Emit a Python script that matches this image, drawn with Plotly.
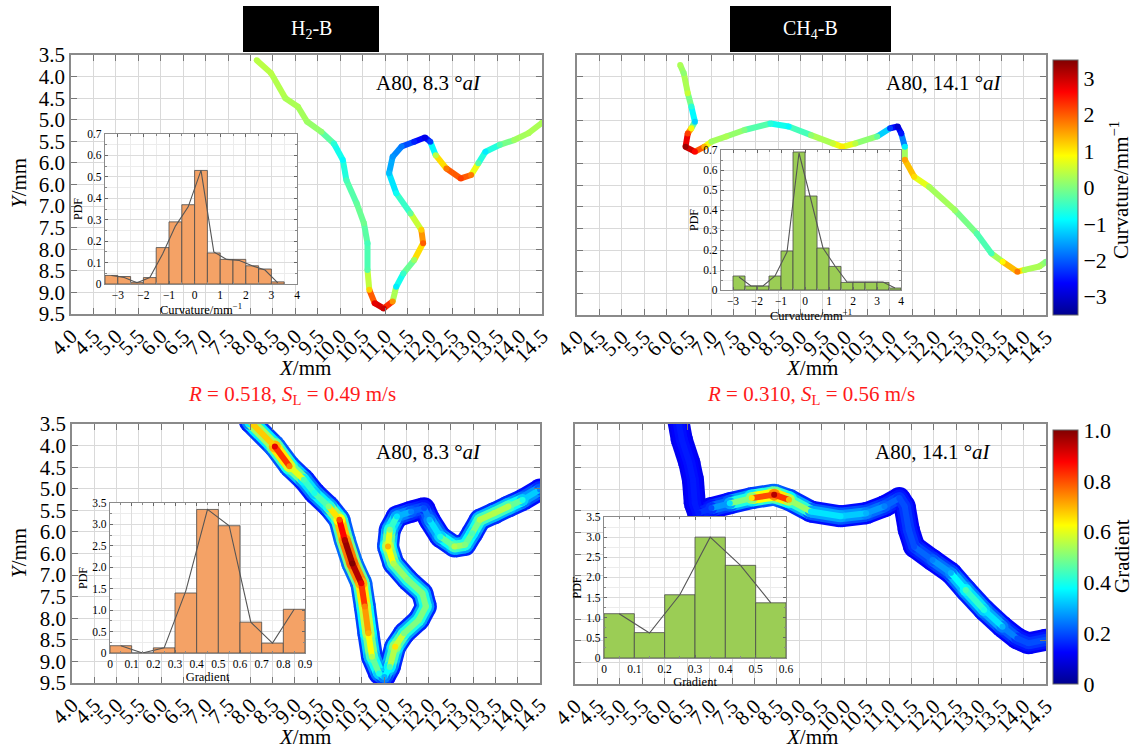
import plotly.graph_objects as go
from plotly.colors import sample_colorscale

W, H = 1136, 755
FONT = "Liberation Serif"

# ---------------- data ----------------
X_TICKS = [4.0 + 0.5 * i for i in range(22)]
X_TICKTEXT = ["4.0", "4.5", "5.0", "5.5", "6.0", "6.5", "7.0", "7.5", "8.0", "8.5", "9.0",
              "9.5", "10.0", "10.5", "11.0", "11.5", "12.0", "12.5", "13.0", "13.5", "14.0", "14.5"]
Y_TICKS = [3.5 + 0.5 * i for i in range(13)]
Y_TICKTEXT = ["3.5", "4.0", "4.5", "5.0", "5.5", "6.0", "6.0", "7.0", "7.5", "8.0", "8.5", "9.0", "9.5"]

# H2-B flame front, curvature (mm^-1)
TL_X = [8.14, 8.46, 8.78, 9.06, 9.26, 9.58, 9.86, 10.06, 10.14, 10.37, 10.53, 10.61, 10.61, 10.65,
        10.77, 10.97, 11.17, 11.25, 11.41, 11.65, 11.85, 11.81, 11.57, 11.25, 11.09, 11.17, 11.37,
        11.65, 11.89, 12.01, 12.13, 12.37, 12.69, 12.92, 13.08, 13.24, 13.56, 13.88, 14.20, 14.50]
TL_Y = [3.62, 3.92, 4.50, 4.70, 5.04, 5.28, 5.55, 5.93, 6.40, 6.94, 7.40, 7.86, 8.48, 8.94,
        9.25, 9.37, 9.21, 8.87, 8.56, 8.25, 7.86, 7.55, 7.17, 6.70, 6.24, 5.86, 5.62,
        5.51, 5.41, 5.51, 5.82, 6.13, 6.36, 6.28, 6.01, 5.74, 5.58, 5.47, 5.31, 5.07]
TL_K = [0.4, 0.4, 0.3, 0.3, 0.2, 0.1, -0.6, -0.9, -0.4, -0.2, -0.1, -0.4, -0.3, 1.2,
        2.8, 3.0, 1.6, -1.0, -0.5, 0.2, 2.0, 1.2, -0.2, -0.8, -1.3, -1.6, -1.8,
        -2.4, -2.8, -2.2, 0.4, 1.8, 2.2, 1.8, -0.3, -1.0, -0.3, 0.2, 0.3, 0.3]

# CH4-B flame front, curvature (mm^-1)
TR_X = [6.31, 6.39, 6.48, 6.56, 6.64, 6.56, 6.48, 6.43, 6.64, 6.85, 7.01, 7.34, 7.75, 8.33, 8.74,
        9.24, 9.73, 9.94, 10.23, 10.72, 11.01, 11.18, 11.26, 11.34, 11.34, 11.55, 11.88, 12.46,
        12.95, 13.28, 13.53, 13.86, 14.02, 14.35, 14.50]
TR_Y = [3.73, 3.92, 4.38, 4.69, 5.04, 5.19, 5.31, 5.62, 5.73, 5.62, 5.50, 5.38, 5.23, 5.08, 5.15,
        5.35, 5.54, 5.62, 5.54, 5.38, 5.19, 5.15, 5.31, 5.62, 5.92, 6.31, 6.54, 7.08,
        7.62, 8.08, 8.27, 8.50, 8.46, 8.38, 8.27]
TR_K = [0.3, 0.1, 0.5, -0.6, -1.2, 0.8, 2.2, 3.3, 2.6, 1.4, 0.2, 0.3, 0.0, -0.6, -0.9,
        0.1, 0.5, 1.0, 0.4, -0.2, -2.2, -3.0, -2.5, -1.0, 1.5, 1.1, 0.3, 0.2,
        -0.3, -0.4, 0.9, 1.8, 0.3, 0.3, 0.0]

# H2-B flame front, normalised gradient
BL_X = [7.99, 8.55, 8.88, 9.20, 9.44, 9.76, 10.00, 10.12, 10.29, 10.49, 10.57, 10.65, 10.73, 10.89,
        11.01, 11.13, 11.25, 11.45, 11.78, 11.94, 11.86, 11.53, 11.21, 11.09, 11.13, 11.29, 11.61,
        11.90, 12.02, 12.26, 12.58, 12.82, 12.98, 13.15, 13.47, 13.79, 14.11, 14.50]
BL_Y = [3.44, 4.02, 4.48, 4.79, 5.10, 5.41, 5.72, 6.19, 6.73, 7.19, 7.73, 8.35, 8.89, 9.28,
        9.36, 9.13, 8.66, 8.35, 8.04, 7.73, 7.42, 7.11, 6.73, 6.34, 5.95, 5.64, 5.53,
        5.45, 5.72, 6.11, 6.34, 6.30, 6.03, 5.72, 5.57, 5.41, 5.26, 5.02]
BL_G = [0.45, 0.9, 0.75, 0.45, 0.4, 0.5, 0.8, 0.95, 1.0, 0.9, 0.75, 0.7, 0.55, 0.4,
        0.3, 0.45, 0.65, 0.5, 0.5, 0.5, 0.5, 0.5, 0.55, 0.7, 0.5, 0.35, 0.25,
        0.2, 0.3, 0.4, 0.55, 0.5, 0.45, 0.55, 0.55, 0.55, 0.4, 0.25]

# CH4-B flame front, normalised gradient
BR_X = [6.30, 6.38, 6.55, 6.63, 6.67, 6.75, 7.04, 7.45, 7.94, 8.44, 8.77, 9.26, 9.92, 10.49,
        10.90, 11.23, 11.35, 11.44, 11.56, 11.97, 12.38, 12.71, 13.12, 13.53, 13.86, 14.11, 14.50]
BR_Y = [3.40, 3.86, 4.40, 4.79, 5.33, 5.56, 5.44, 5.33, 5.21, 5.13, 5.25, 5.52, 5.63, 5.56,
        5.40, 5.21, 5.40, 5.94, 6.33, 6.64, 6.94, 7.33, 7.79, 8.18, 8.45, 8.56, 8.48]
BR_G = [0.15, 0.15, 0.15, 0.15, 0.15, 0.15, 0.2, 0.35, 0.65, 0.95, 0.7, 0.35, 0.35, 0.3,
        0.25, 0.2, 0.2, 0.2, 0.2, 0.25, 0.3, 0.45, 0.4, 0.3, 0.2, 0.2, 0.2]

# inset histograms
H2_K_BINS = [-3.25, -2.75, -2.25, -1.75, -1.25, -0.75, -0.25, 0.25, 0.75, 1.25, 1.75, 2.25, 2.75, 3.25]
H2_K_PDF = [0.04, 0.035, 0.008, 0.03, 0.17, 0.29, 0.37, 0.53, 0.145, 0.115, 0.115, 0.085, 0.07, 0.01]
H2_K_FIT = [0.04, 0.03, 0.006, 0.03, 0.14, 0.27, 0.36, 0.53, 0.15, 0.115, 0.11, 0.085, 0.065, 0.005]

CH4_K_BINS = [-2.75, -2.25, -1.75, -1.25, -0.75, -0.25, 0.25, 0.75, 1.25, 1.75, 2.25, 2.75, 3.25, 3.75]
CH4_K_PDF = [0.07, 0.02, 0.02, 0.07, 0.195, 0.69, 0.47, 0.21, 0.118, 0.038, 0.038, 0.038, 0.038, 0.01]
CH4_K_FIT = [0.065, 0.02, 0.02, 0.07, 0.19, 0.685, 0.45, 0.21, 0.12, 0.04, 0.04, 0.04, 0.04, 0.01]

H2_G_BINS = [0.05, 0.15, 0.25, 0.35, 0.45, 0.55, 0.65, 0.75, 0.85]
H2_G_PDF = [0.17, 0.0, 0.12, 1.4, 3.35, 2.97, 0.72, 0.23, 1.02]
H2_G_FIT = [0.17, 0.0, 0.12, 1.45, 3.35, 2.97, 0.72, 0.23, 1.02]

CH4_G_BINS = [0.05, 0.15, 0.25, 0.35, 0.45, 0.55]
CH4_G_PDF = [1.1, 0.63, 1.57, 3.0, 2.3, 1.37]
CH4_G_FIT = [1.1, 0.62, 1.57, 3.0, 2.3, 1.37]

# ---------------- style ----------------
JET = [[0.0, 'rgb(0,0,143)'], [0.125, 'rgb(0,0,255)'], [0.375, 'rgb(0,255,255)'],
       [0.625, 'rgb(255,255,0)'], [0.875, 'rgb(255,0,0)'], [1.0, 'rgb(128,0,0)']]
ORANGE = 'rgb(244,162,102)'
GREEN = 'rgb(155,205,85)'
K_MIN, K_MAX = -3.5, 3.5

# panel pixel boxes: (x0, x1), (y0, y1)
BOX = {
    1: ((71, 542), (55, 314)),
    2: ((577, 1046), (55, 315)),
    3: ((72, 540), (424, 683)),
    4: ((575, 1046), (424, 684)),
    5: ((105, 297), (134, 284)),
    6: ((721, 901), (150, 290)),
    7: ((110, 305), (503, 653)),
    8: ((604, 786), (517, 658)),
}


def px(x):
    return x / W


def py(y):
    return 1 - y / H


def col(v, lo, hi):
    t = min(max((v - lo) / (hi - lo), 0.0), 1.0)
    return sample_colorscale(JET, [t])[0]


fig = go.Figure()


def ax_ids(n):
    return ('x' if n == 1 else f'x{n}'), ('y' if n == 1 else f'y{n}')


def colored_path(n, xs, ys, vals, lo, hi, width, cbar=None):
    xa, ya = ax_ids(n)
    for i in range(len(xs) - 1):
        v = 0.5 * (vals[i] + vals[i + 1])
        fig.add_trace(go.Scatter(x=[xs[i], xs[i + 1]], y=[ys[i], ys[i + 1]], mode='lines',
                                 line=dict(color=col(v, lo, hi), width=width),
                                 xaxis=xa, yaxis=ya, hoverinfo='skip', showlegend=False))
    mk = dict(size=width, color=vals, colorscale=JET, cmin=lo, cmax=hi, line=dict(width=0))
    if cbar is not None:
        mk['showscale'] = True
        mk['colorbar'] = cbar
    fig.add_trace(go.Scatter(x=xs, y=ys, mode='markers', marker=mk, xaxis=xa, yaxis=ya,
                             hoverinfo='skip', showlegend=False))


def band(n, xs, ys, vals, cbar=None):
    base = 0.1
    layers = [(22, 0.15), (17, 0.45), (12, 0.75), (6, 1.0)]
    for k, (w, f) in enumerate(layers):
        lv = [base + (v - base) * f for v in vals]
        colored_path(n, xs, ys, lv, 0.0, 1.0, w, cbar if k == len(layers) - 1 else None)


cb_common = dict(xanchor='left', yanchor='bottom', thickness=25, thicknessmode='pixels',
                 lenmode='fraction', xpad=0, ypad=0, outlinewidth=1, outlinecolor='#666',
                 ticks='', ticklabelposition='outside',
                 tickfont=dict(family=FONT, size=22, color='black'))

cb_k = dict(cb_common, x=px(1053), y=py(315), len=(315 - 60) / H,
            tickvals=[-3, -2, -1, 0, 1, 2, 3], ticktext=['\u22123', '\u22122', '\u22121', '0', '1', '2', '3'])
cb_g = dict(cb_common, x=px(1053), y=py(684), len=(684 - 430) / H,
            tickvals=[0, 0.2, 0.4, 0.6, 0.8, 1.0], ticktext=['0', '0.2', '0.4', '0.6', '0.8', '1.0'])

# main panels
colored_path(1, TL_X, TL_Y, TL_K, K_MIN, K_MAX, 6, cb_k)
colored_path(2, TR_X, TR_Y, TR_K, K_MIN, K_MAX, 6)
band(3, BL_X, BL_Y, BL_G, cb_g)
band(4, BR_X, BR_Y, BR_G)


# insets
def inset(n, centers, pdf, fit, bw, color):
    xa, ya = ax_ids(n)
    fig.add_trace(go.Bar(x=centers, y=pdf, width=bw, xaxis=xa, yaxis=ya,
                         marker=dict(color=color, line=dict(color='#4a4a4a', width=0.8)),
                         hoverinfo='skip', showlegend=False))
    fig.add_trace(go.Scatter(x=centers, y=fit, mode='lines', xaxis=xa, yaxis=ya,
                             line=dict(color='#555555', width=1.1),
                             hoverinfo='skip', showlegend=False))


inset(5, H2_K_BINS, H2_K_PDF, H2_K_FIT, 0.5, ORANGE)
inset(6, CH4_K_BINS, CH4_K_PDF, CH4_K_FIT, 0.5, GREEN)
inset(7, H2_G_BINS, H2_G_PDF, H2_G_FIT, 0.1, ORANGE)
inset(8, CH4_G_BINS, CH4_G_PDF, CH4_G_FIT, 0.1, GREEN)

# ---------------- layout ----------------
layout = dict(
    width=W, height=H,
    margin=dict(l=0, r=0, t=0, b=0, autoexpand=False),
    paper_bgcolor='white', plot_bgcolor='white',
    showlegend=False, barmode='overlay',
    font=dict(family=FONT, color='black'),
)


def dom(n):
    (x0, x1), (y0, y1) = BOX[n]
    return [px(x0), px(x1)], [py(y1), py(y0)]


for n in range(1, 5):
    xd, yd = dom(n)
    key = '' if n == 1 else str(n)
    xa, ya = ax_ids(n)
    common = dict(showline=True, linecolor='#8a8a8a', linewidth=1.5, mirror='ticks',
                  ticks='inside', ticklen=6, tickcolor='#777', tickwidth=1,
                  showgrid=True, gridcolor='#d9d9d9', gridwidth=1, zeroline=False,
                  automargin=False, tickfont=dict(family=FONT, size=21, color='black'))
    layout['xaxis' + key] = dict(common, domain=xd, anchor=ya, range=[4.0, 14.5],
                                 tickmode='array', tickvals=X_TICKS, ticktext=X_TICKTEXT,
                                 tickangle=-45)
    layout['yaxis' + key] = dict(common, domain=yd, anchor=xa, range=[9.5, 3.5],
                                 tickmode='array', tickvals=Y_TICKS, ticktext=Y_TICKTEXT,
                                 showticklabels=(n in (1, 3)))

INSET_AX = {
    5: (dict(range=[-3.5, 4], tickvals=[-3, -2, -1, 0, 1, 2, 3, 4],
             ticktext=['\u22123', '\u22122', '\u22121', '0', '1', '2', '3', '4'], mdt=0.5,
             title='Curvature/mm<sup>\u22121</sup>'),
        dict(range=[0, 0.7], tickvals=[0, 0.1, 0.2, 0.3, 0.4, 0.5, 0.6, 0.7],
             ticktext=['0', '0.1', '0.2', '0.3', '0.4', '0.5', '0.6', '0.7'], mdt=0.05)),
    6: (dict(range=[-3.5, 4], tickvals=[-3, -2, -1, 0, 1, 2, 3, 4],
             ticktext=['\u22123', '\u22122', '\u22121', '0', '1', '2', '3', '4'], mdt=0.5,
             title='Curvature/mm<sup>\u22121</sup>'),
        dict(range=[0, 0.7], tickvals=[0, 0.1, 0.2, 0.3, 0.4, 0.5, 0.6, 0.7],
             ticktext=['0', '0.1', '0.2', '0.3', '0.4', '0.5', '0.6', '0.7'], mdt=0.05)),
    7: (dict(range=[0, 0.9], tickvals=[0, 0.1, 0.2, 0.3, 0.4, 0.5, 0.6, 0.7, 0.8, 0.9],
             ticktext=['0', '0.1', '0.2', '0.3', '0.4', '0.5', '0.6', '0.7', '0.8', '0.9'], mdt=0.05,
             title='Gradient'),
        dict(range=[0, 3.5], tickvals=[0, 0.5, 1, 1.5, 2, 2.5, 3, 3.5],
             ticktext=['0', '0.5', '1.0', '1.5', '2.0', '2.5', '3.0', '3.5'], mdt=0.25)),
    8: (dict(range=[0, 0.6], tickvals=[0, 0.1, 0.2, 0.3, 0.4, 0.5, 0.6],
             ticktext=['0', '0.1', '0.2', '0.3', '0.4', '0.5', '0.6'], mdt=0.05,
             title='Gradient'),
        dict(range=[0, 3.5], tickvals=[0, 0.5, 1, 1.5, 2, 2.5, 3, 3.5],
             ticktext=['0', '0.5', '1.0', '1.5', '2.0', '2.5', '3.0', '3.5'], mdt=0.25)),
}

for n in range(5, 9):
    xd, yd = dom(n)
    xa, ya = ax_ids(n)
    xs, ys = INSET_AX[n]
    common = dict(showline=True, linecolor='#8a8a8a', linewidth=1.2, mirror='ticks',
                  ticks='inside', ticklen=3, tickcolor='#666', tickwidth=1,
                  showgrid=True, gridcolor='#dcdcdc', gridwidth=0.8, zeroline=False,
                  automargin=False, tickfont=dict(family=FONT, size=11.5, color='black'),
                  tickmode='array')
    layout['xaxis' + str(n)] = dict(common, domain=xd, anchor=ya, range=xs['range'],
                                    tickvals=xs['tickvals'], ticktext=xs['ticktext'],
                                    minor=dict(dtick=xs['mdt'], tick0=0, showgrid=True,
                                               gridcolor='#ececec', ticks='inside', ticklen=2,
                                               tickcolor='#888'),
                                    title=dict(text=xs['title'], standoff=2,
                                               font=dict(family=FONT, size=12.5, color='black')))
    layout['yaxis' + str(n)] = dict(common, domain=yd, anchor=xa, range=ys['range'],
                                    tickvals=ys['tickvals'], ticktext=ys['ticktext'],
                                    minor=dict(dtick=ys['mdt'], tick0=0, showgrid=True,
                                               gridcolor='#ececec', ticks='inside', ticklen=2,
                                               tickcolor='#888'),
                                    title=dict(text='PDF', standoff=2,
                                               font=dict(family=FONT, size=12, color='black')))

ann = []


def text(x, y, s, size=21, color='black', angle=0):
    ann.append(dict(x=px(x), y=py(y), xref='paper', yref='paper', text=s, showarrow=False,
                    xanchor='center', yanchor='middle', textangle=angle,
                    font=dict(family=FONT, size=size, color=color)))


text(19, 183, '<i>Y</i>/mm', angle=-90)
text(19, 553, '<i>Y</i>/mm', angle=-90)
text(305, 368, '<i>X</i>/mm')
text(812, 368, '<i>X</i>/mm')
text(305, 737, '<i>X</i>/mm')
text(812, 737, '<i>X</i>/mm')
text(428, 83, 'A80, 8.3 \u00b0<i>aI</i>')
text(944, 83, 'A80, 14.1 \u00b0<i>aI</i>')
text(428, 452, 'A80, 8.3 \u00b0<i>aI</i>')
text(933, 452, 'A80, 14.1 \u00b0<i>aI</i>')
text(292, 395, '<i>R</i> = 0.518, <i>S</i><sub>L</sub> = 0.49 m/s', color='#ff1a1a')
text(811, 395, '<i>R</i> = 0.310, <i>S</i><sub>L</sub> = 0.56 m/s', color='#ff1a1a')
text(311, 30, 'H<sub>2</sub>-B', size=20, color='white')
text(810, 30, 'CH<sub>4</sub>-B', size=20, color='white')
text(1120, 190, 'Curvature/mm<sup>\u22121</sup>', size=21, angle=-90)
text(1122, 556, 'Gradient', size=21, angle=-90)

shapes = [
    dict(type='rect', xref='paper', yref='paper', x0=px(243), x1=px(379), y0=py(52), y1=py(6),
         fillcolor='black', line=dict(width=0), layer='above'),
    dict(type='rect', xref='paper', yref='paper', x0=px(730), x1=px(891), y0=py(52), y1=py(6),
         fillcolor='black', line=dict(width=0), layer='above'),
]

layout['annotations'] = ann
layout['shapes'] = shapes
fig.update_layout(**layout)

fig.write_html("out.html")
